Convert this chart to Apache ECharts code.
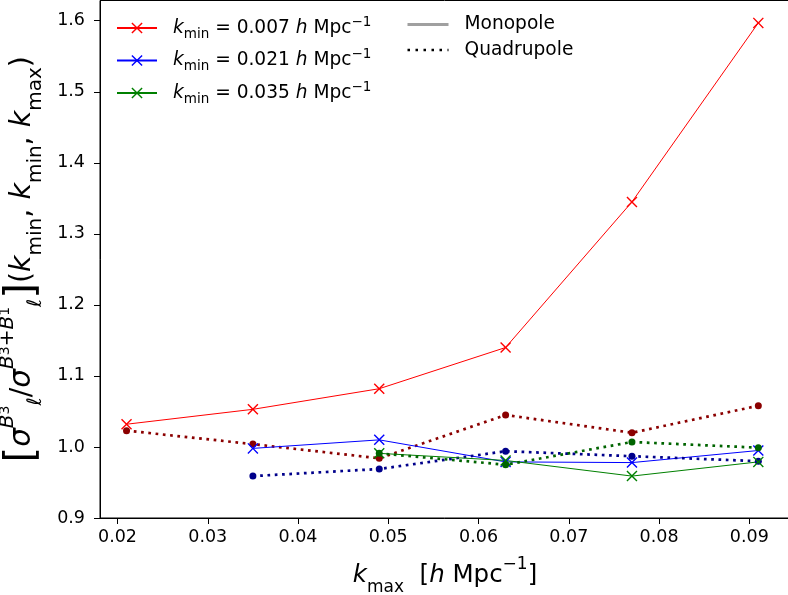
<!DOCTYPE html>
<html><head><meta charset="utf-8">
<script src="https://cdn.jsdelivr.net/npm/echarts@6/dist/echarts.min.js"></script>
<style>html,body{margin:0;padding:0;background:#fff}#c{width:788px;height:595px}</style>
</head><body><div id="c"></div>
<script>
// ---- data ----
const kmax = [0.021, 0.035, 0.049, 0.063, 0.077, 0.091];
const monoR = [1.032, 1.053, 1.082, 1.140, 1.345, 1.597];
const quadR = [1.023, 1.004, 0.984, 1.045, 1.020, 1.058];
const monoB = [null, 0.998, 1.010, 0.979, 0.978, 0.995];
const quadB = [null, 0.959, 0.969, 0.994, 0.987, 0.980];
const monoG = [null, null, 0.991, 0.981, 0.959, 0.979];
const quadG = [null, null, 0.991, 0.975, 1.007, 0.999];
const xTicks = [0.02, 0.03, 0.04, 0.05, 0.06, 0.07, 0.08, 0.09];
const yTicks = [0.9, 1.0, 1.1, 1.2, 1.3, 1.4, 1.5, 1.6];
const kminLabels = ['0.007', '0.021', '0.035'];

const FONT = 'DejaVu Sans';
const X_SYM = 'path://M0,9L9,0L50,41L91,0L100,9L59,50L100,91L91,100L50,59L9,100L0,91L41,50Z';

function pairs(vals) {
  const out = [];
  vals.forEach((v, i) => { if (v !== null) out.push([kmax[i], v]); });
  return out;
}
function mono(name, vals, color) {
  return {
    name: name, type: 'line', data: pairs(vals), symbol: X_SYM, symbolSize: 11,
    showSymbol: true, color: color,
    itemStyle: { color: color, borderWidth: 0 },
    lineStyle: { color: color, width: 1 }, z: 3, animation: false
  };
}
function quad(name, vals, color) {
  return {
    name: name, type: 'line', data: pairs(vals), symbol: 'circle', symbolSize: 7,
    color: color,
    itemStyle: { color: color, borderWidth: 0 },
    lineStyle: { color: color, width: 2.7, type: [2.7, 4.6], cap: 'butt' }, z: 3, animation: false
  };
}

const series = [
  mono('r', monoR, '#ff0000'), quad('qr', quadR, '#8b0000'),
  mono('b', monoB, '#0000ff'), quad('qb', quadB, '#00008b'),
  mono('g', monoG, '#008000'), quad('qg', quadG, '#006400'),
  { name: 'Monopole', type: 'line', data: [], symbol: 'circle', symbolSize: 0, color: '#a0a0a0',
    itemStyle: { color: 'rgba(0,0,0,0)', opacity: 0 },
    lineStyle: { color: '#a0a0a0', width: 3 } },
  { name: 'Quadrupole', type: 'line', data: [], symbol: 'circle', symbolSize: 0, color: '#000',
    itemStyle: { color: 'rgba(0,0,0,0)', opacity: 0 },
    lineStyle: { color: '#000', width: 2.5, type: [2.5, 5.5], cap: 'butt' } }
];

const LF = 18.6, LS = 13.5;
const legRich = {
  k: { fontFamily: FONT, fontSize: LF, fontStyle: 'italic', color: '#000', lineHeight: 26, padding: [0, 0, 0, 11] },
  sub: { fontFamily: FONT, fontSize: LS, color: '#000', lineHeight: 20, verticalAlign: 'bottom' },
  t: { fontFamily: FONT, fontSize: LF, color: '#000', lineHeight: 26 },
  h: { fontFamily: FONT, fontSize: LF, fontStyle: 'italic', color: '#000', lineHeight: 26 },
  sup: { fontFamily: FONT, fontSize: LS, color: '#000', lineHeight: 18, verticalAlign: 'top' },
  p: { fontFamily: FONT, fontSize: LF, color: '#000', lineHeight: 26, padding: [0, 0, 0, 11] }
};

function makeRich(AF, AS, SS, BR, LH) {
  return {
    k: { fontFamily: FONT, fontSize: AF, fontStyle: 'italic', color: '#000', lineHeight: LH },
    sub: { fontFamily: FONT, fontSize: AS, color: '#000', lineHeight: LH - 4, verticalAlign: 'bottom' },
    t: { fontFamily: FONT, fontSize: AF, color: '#000', lineHeight: LH },
    br: { fontFamily: FONT, fontSize: BR, color: '#000', lineHeight: LH },
    s: { fontFamily: FONT, fontSize: AF + 1, fontStyle: 'italic', color: '#000', lineHeight: LH },
    sup: { fontFamily: FONT, fontSize: AS, color: '#000', lineHeight: LH - 12, verticalAlign: 'top' },
    supi: { fontFamily: FONT, fontSize: AS, fontStyle: 'italic', color: '#000', lineHeight: LH - 14, verticalAlign: 'top' },
    ss: { fontFamily: FONT, fontSize: SS, color: '#000', lineHeight: LH - 8, verticalAlign: 'top' },
    subi: { fontFamily: FONT, fontSize: AS, fontStyle: 'italic', color: '#000', lineHeight: LH - 10, verticalAlign: 'bottom' }
  };
}

const chart = echarts.init(document.getElementById('c'), null, { renderer: 'canvas' });
chart.setOption({
  backgroundColor: '#fff',
  animation: false,
  grid: { left: 100, top: 0.5, width: 690, height: 517.5, show: true, borderColor: '#000', borderWidth: 1,
    containLabel: false, outerBoundsMode: 'none' },
  legend: [
    {
      data: ['r', 'b', 'g'], orient: 'vertical', left: 116, top: 15, itemWidth: 40, itemHeight: 14, itemGap: 6.5,
      padding: 0,
      formatter: function (n) {
        const i = ['r', 'b', 'g'].indexOf(n);
        return '{k|k}{sub|min}{t| = ' + kminLabels[i] + ' }{h|h}{t| Mpc}{sup|−1}';
      },
      textStyle: { rich: legRich }, selectedMode: false
    },
    {
      data: [
        { name: 'Monopole', itemStyle: { opacity: 0 }, lineStyle: { width: 3, color: '#a0a0a0' } },
        { name: 'Quadrupole', itemStyle: { opacity: 0 }, lineStyle: { width: 2.5, color: '#000', type: [2.5, 5.5] } }
      ],
      orient: 'vertical', left: 406, top: 15, itemWidth: 41, itemHeight: 14, itemGap: 6.5,
      padding: 0,
      formatter: function (n) { return '{p|' + n + '}'; },
      textStyle: { rich: legRich }, selectedMode: false
    }
  ],
  xAxis: {
    type: 'value', min: 0.01806, max: 0.09451,
    axisLine: { show: true, lineStyle: { color: '#000', width: 1 } },
    axisTick: { show: true, length: 6, customValues: xTicks, lineStyle: { color: '#000' } },
    axisLabel: { customValues: xTicks, fontFamily: FONT, fontSize: 17.5, color: '#000', margin: 10,
      formatter: v => v.toFixed(2) },
    splitLine: { show: false },
    name: '{k|k}{sub|max}{t|  [}{k|h}{t| Mpc}{sup|−1}{t|]}',
    nameLocation: 'middle', nameGap: 38,
    nameTextStyle: { rich: makeRich(24.5, 17, 12, 32, 40) }
  },
  yAxis: {
    type: 'value', min: 0.9, max: 1.6285,
    axisLine: { show: true, lineStyle: { color: '#000', width: 1 } },
    axisTick: { show: true, length: 6, customValues: yTicks, lineStyle: { color: '#000' } },
    axisLabel: { customValues: yTicks, fontFamily: FONT, fontSize: 17.5, color: '#000', margin: 15,
      formatter: v => v.toFixed(1) },
    splitLine: { show: false },
    name: '{br|[}{s|σ}{supi|B}{ss|3}{subi|ℓ}{t|/}{s|σ}{supi|B}{ss|3}{sup|+}{supi|B}{ss|1}{subi|ℓ}{br|]}{t|(}{k|k}{sub|min}{t|, }{k|k}{sub|min}{t|, }{k|k}{sub|max}{t|)}',
    nameLocation: 'middle', nameGap: 50, nameRotate: 90,
    nameTextStyle: { rich: makeRich(28.5, 20, 14, 40, 48) }
  },
  series: series
});
</script>
</body></html>
